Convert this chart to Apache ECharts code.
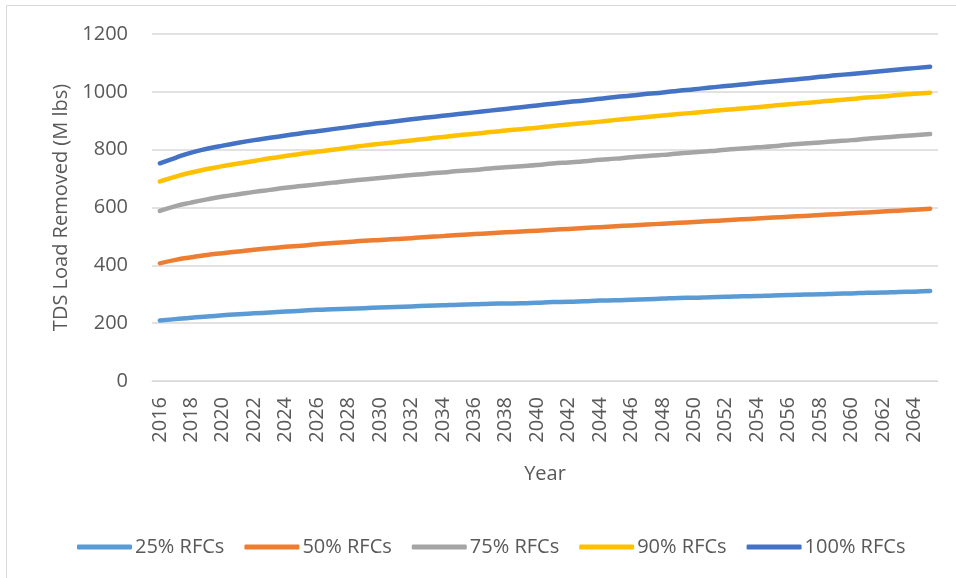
<!DOCTYPE html>
<html>
<head>
<meta charset="utf-8">
<script src="https://cdn.jsdelivr.net/npm/echarts@6/dist/echarts.min.js"></script>
<style>
  html, body { margin: 0; padding: 0; background: #fff; }
  #chart { width: 956px; height: 578px; }
</style>
</head>
<body>
<div id="chart"></div>
<script>
//years on the x axis, 2016..2065
var years = [];
for (var y = 2016; y <= 2065; y++) years.push(String(y));

//TDS load removed (M lbs)
var rfc25 = [209, 214, 219, 223, 227, 231, 234, 237, 240, 243,
             246, 248, 250, 252, 254, 256, 258, 260, 262, 264,
             265, 267, 268, 269, 271, 273, 274, 276, 278, 279,
             281, 283, 285, 287, 288, 290, 291, 293, 294, 296,
             297, 299, 300, 302, 303, 305, 306, 308, 309, 311];
var rfc50 = [407, 419, 428, 436, 442, 448, 454, 459, 464, 468,
             473, 477, 481, 485, 488, 491, 494, 498, 501, 505,
             508, 511, 514, 517, 520, 523, 526, 529, 532, 535,
             538, 541, 544, 547, 550, 553, 556, 559, 562, 565,
             568, 571, 574, 577, 580, 583, 586, 589, 592, 596];
var rfc75 = [588, 605, 617, 628, 638, 646, 654, 661, 668, 674,
             680, 686, 692, 697, 702, 707, 712, 717, 721, 726,
             730, 735, 739, 743, 747, 752, 756, 760, 765, 769,
             774, 778, 782, 787, 791, 795, 800, 804, 808, 812,
             817, 821, 825, 829, 833, 838, 842, 846, 850, 854];
var rfc90 = [690, 707, 721, 733, 743, 752, 761, 770, 778, 786,
             793, 800, 807, 814, 820, 826, 832, 838, 844, 850,
             855, 861, 866, 871, 876, 882, 887, 892, 897, 903,
             908, 913, 918, 923, 928, 933, 938, 942, 947, 952,
             957, 961, 966, 971, 975, 980, 984, 989, 993, 997];
var rfc100 = [753, 772, 790, 803, 814, 824, 833, 841, 849, 857,
              864, 871, 878, 885, 892, 898, 905, 911, 917, 923,
              929, 935, 941, 947, 953, 959, 965, 970, 976, 982,
              987, 993, 998, 1004, 1009, 1015, 1020, 1025, 1031, 1036,
              1041, 1046, 1052, 1057, 1062, 1067, 1072, 1077, 1082, 1087];

var names = ['25% RFCs', '50% RFCs', '75% RFCs', '90% RFCs', '100% RFCs'];
var values = [rfc25, rfc50, rfc75, rfc90, rfc100];
var colors = ['#5B9BD5', '#ED7D31', '#A5A5A5', '#FFC000', '#4472C4'];

var textColor = '#595959';
var font = '"Open Sans", sans-serif';

var series = [];
for (var i = 0; i < names.length; i++) {
    series.push({
        name: names[i],
        type: 'line',
        data: values[i],
        symbol: 'none',
        smooth: true,
        color: colors[i],
        lineStyle: { width: 4.5, cap: 'round', join: 'round' }
    });
}

var chart = echarts.init(document.getElementById('chart'), null, { renderer: 'canvas' });

var option = {
    animation: false,
    textStyle: { fontFamily: font },
    graphic: [{
        type: 'rect',
        shape: { x: 6.5, y: 5.5, width: 1000, height: 1000 },
        style: { fill: 'none', stroke: '#d9d9d9', lineWidth: 1 },
        silent: true
    }],
    grid: { left: 152, right: 18, top: 34, bottom: 197 },
    legend: {
        data: names,
        left: 72,
        top: 532,
        icon: 'roundRect',
        itemWidth: 55,
        itemHeight: 5,
        itemGap: 20,
        textStyle: { color: textColor, fontSize: 20, fontFamily: font, padding: [0, 0, 0, -2] }
    },
    xAxis: {
        type: 'category',
        data: years,
        boundaryGap: true,
        name: 'Year',
        nameLocation: 'middle',
        nameGap: 83,
        nameTextStyle: { color: textColor, fontSize: 20, fontFamily: font },
        axisLine: { lineStyle: { color: '#d9d9d9', width: 1 } },
        axisTick: { show: false },
        axisLabel: {
            interval: 1,
            rotate: 90,
            margin: 16,
            color: textColor,
            fontSize: 20,
            fontFamily: font
        }
    },
    yAxis: {
        type: 'value',
        min: 0,
        max: 1200,
        interval: 200,
        name: 'TDS Load Removed (M lbs)',
        nameLocation: 'middle',
        nameGap: 76,
        nameTextStyle: { color: textColor, fontSize: 20, fontFamily: font },
        axisLine: { show: false },
        axisTick: { show: false },
        axisLabel: {
            color: textColor, fontSize: 20, fontFamily: font, margin: 24,
            formatter: function (v) { return String(v); }
        },
        splitLine: { lineStyle: { color: '#d9d9d9', width: 1.5 } }
    },
    series: series
};

chart.setOption(option);
</script>
</body>
</html>
